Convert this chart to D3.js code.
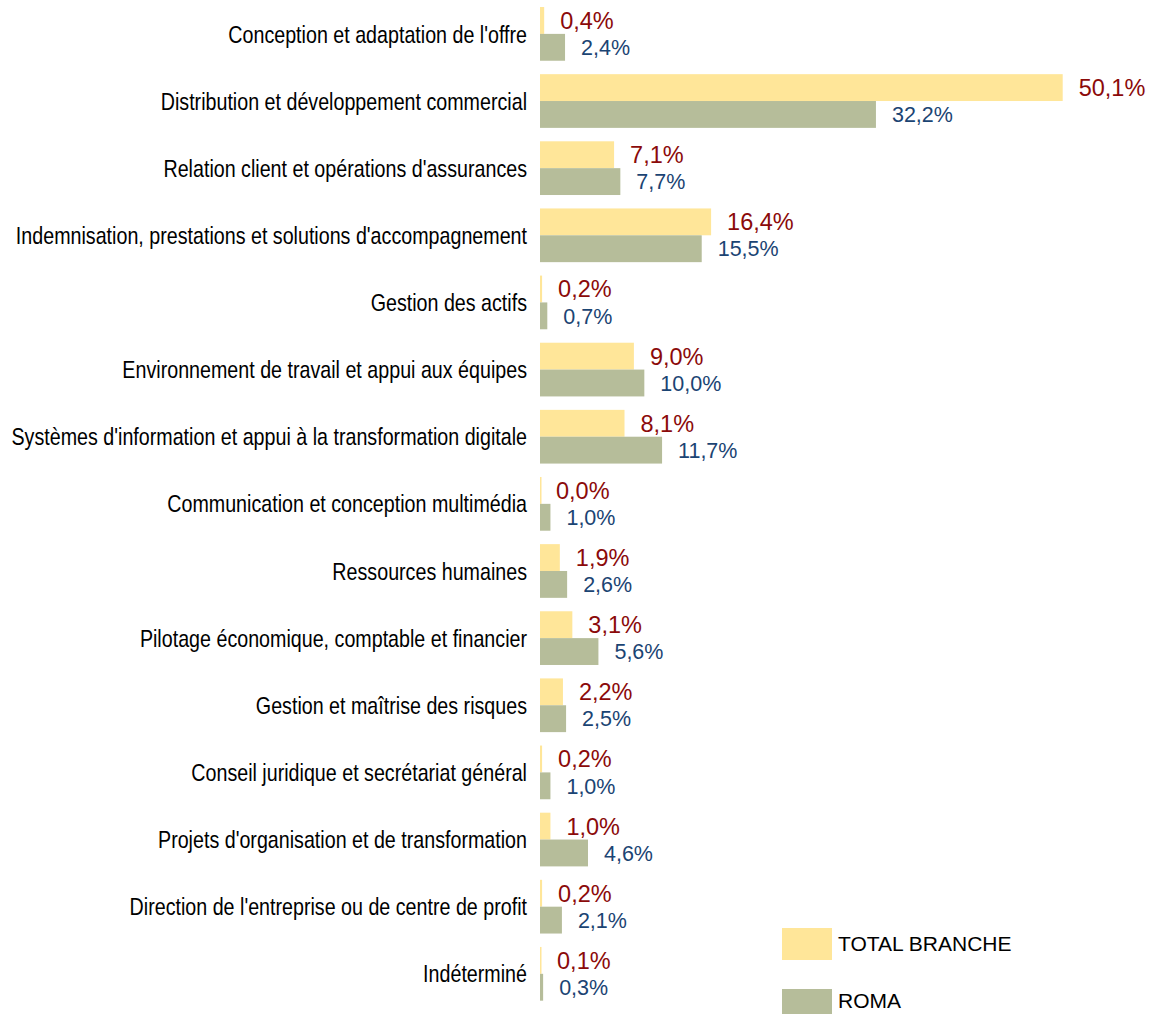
<!DOCTYPE html>
<html>
<head>
<meta charset="utf-8">
<script src="https://cdn.jsdelivr.net/npm/d3@7"></script>
<style>
  body { margin: 0; background: #fff; }
  text { font-family: "Liberation Sans", Arial, sans-serif; }
</style>
</head>
<body>
<div id="chart"></div>
<script>
(function(){
    "use strict";

    // categories, top to bottom
    var categories = [
        "Conception et adaptation de l'offre",
        "Distribution et développement commercial",
        "Relation client et opérations d'assurances",
        "Indemnisation, prestations et solutions d'accompagnement",
        "Gestion des actifs",
        "Environnement de travail et appui aux équipes",
        "Systèmes d'information et appui à la transformation digitale",
        "Communication et conception multimédia",
        "Ressources humaines",
        "Pilotage économique, comptable et financier",
        "Gestion et maîtrise des risques",
        "Conseil juridique et secrétariat général",
        "Projets d'organisation et de transformation",
        "Direction de l'entreprise ou de centre de profit",
        "Indéterminé"
    ];
    var seriesNames = ["TOTAL BRANCHE", "ROMA"];
    var totalBranche = [0.4, 50.1, 7.1, 16.4, 0.2, 9.0, 8.1, 0.0, 1.9, 3.1, 2.2, 0.2, 1.0, 0.2, 0.1];
    var roma = [2.4, 32.2, 7.7, 15.5, 0.7, 10.0, 11.7, 1.0, 2.6, 5.6, 2.5, 1.0, 4.6, 2.1, 0.3];

    var width = 1162, height = 1014;
    var x0 = 540;

    var svg = d3.select('#chart').append('svg')
        .attr('width', width)
        .attr('height', height);

    var x = d3.scaleLinear().domain([0, 50.1]).range([x0, 1062.7]);
    var y = d3.scaleBand().domain(categories).range([-6.4, 1014.1]).padding(0.2);
    var ySub = d3.scaleBand().domain(seriesNames).range([0, y.bandwidth()]);

    var fills = {"TOTAL BRANCHE": "#ffe699", "ROMA": "#b6bd9a"};
    var labelColors = {"TOTAL BRANCHE": "#8b0a0a", "ROMA": "#1b4473"};
    var labelSizes = {"TOTAL BRANCHE": 23.5, "ROMA": 21.5};

    var rows = categories.map(function(c, i){
        return {cat: c, values: [
            {key: "TOTAL BRANCHE", value: totalBranche[i]},
            {key: "ROMA", value: roma[i]}
        ]};
    });

    // category labels (narrow look: squeeze horizontally)
    svg.append('g').selectAll('text')
        .data(categories)
        .enter().append('text')
        .attr('transform', function(d){
            return 'translate(527,' + (y(d) + y.bandwidth() / 2) + ') scale(0.82,1)';
        })
        .attr('dy', '0.36em')
        .attr('text-anchor', 'end')
        .style('font-size', '24px')
        .style('fill', '#000')
        .text(function(d){ return d; });

    var groups = svg.append('g').selectAll('g')
        .data(rows)
        .enter().append('g')
        .attr('transform', function(d){ return 'translate(0,' + y(d.cat) + ')'; });

    groups.selectAll('rect')
        .data(function(d){ return d.values; })
        .enter().append('rect')
        .attr('x', x0)
        .attr('y', function(d){ return ySub(d.key); })
        .attr('width', function(d){ return Math.max(x(d.value) - x0, 1.5); })
        .attr('height', ySub.bandwidth())
        .style('fill', function(d){ return fills[d.key]; });

    groups.selectAll('text')
        .data(function(d){ return d.values; })
        .enter().append('text')
        .attr('x', function(d){ return x(d.value) + 16; })
        .attr('y', function(d){ return ySub(d.key) + ySub.bandwidth() / 2; })
        .attr('dy', '0.36em')
        .style('font-size', function(d){ return labelSizes[d.key] + 'px'; })
        .style('fill', function(d){ return labelColors[d.key]; })
        .text(function(d){ return d.value.toFixed(1).replace('.', ',') + '%'; });

    // legend (the last swatch runs off the bottom, as in the original)
    var legend = svg.append('g').selectAll('g')
        .data(seriesNames)
        .enter().append('g')
        .attr('transform', function(d, i){ return 'translate(782,' + (928 + i * 61) + ')'; });
    legend.append('rect')
        .attr('width', 50)
        .attr('height', 32)
        .style('fill', function(d){ return fills[d]; });
    legend.append('text')
        .attr('x', 56)
        .attr('y', function(d, i){ return i === 0 ? 15 : 11.5; })
        .attr('dy', '0.36em')
        .style('font-size', '21px')
        .style('fill', '#000')
        .text(function(d){ return d; });
})();
</script>
</body>
</html>
